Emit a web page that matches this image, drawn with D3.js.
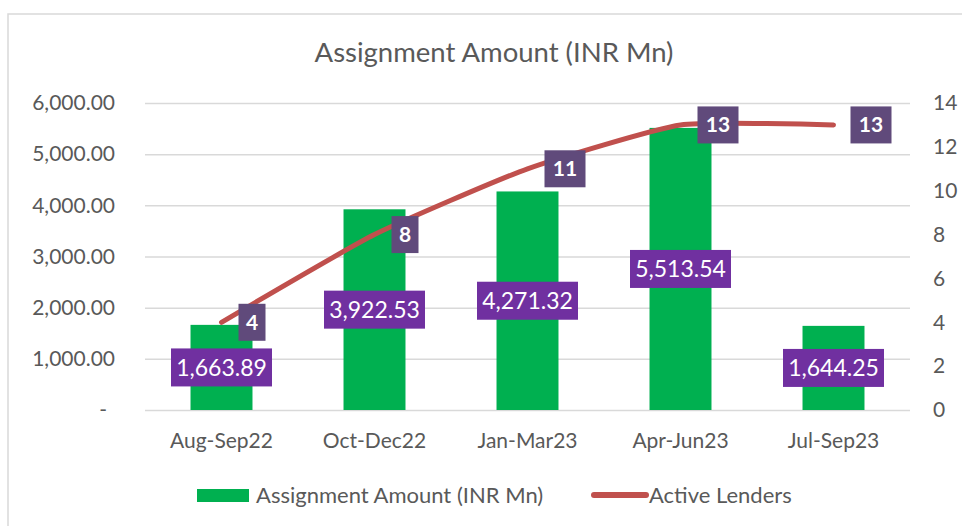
<!DOCTYPE html>
<html>
<head>
<meta charset="utf-8">
<title>Assignment Amount (INR Mn)</title>
<script src="https://cdnjs.cloudflare.com/ajax/libs/d3/7.8.5/d3.min.js"></script>
<style>
  body { margin: 0; background: #fff; }
  svg text { font-family: Lato, "Open Sans", sans-serif; fill: #595959; }
</style>
</head>
<body>
<div id="chart"></div>
<script>
// data
const categories = ["Aug-Sep22", "Oct-Dec22", "Jan-Mar23", "Apr-Jun23", "Jul-Sep23"];
const assignmentAmount = [1663.89, 3922.53, 4271.32, 5513.54, 1644.25];
const activeLenders = [4, 8, 11, 13, 13];
const leftTicks = [0, 1000, 2000, 3000, 4000, 5000, 6000];
const rightTicks = [0, 2, 4, 6, 8, 10, 12, 14];
const seriesNames = ["Assignment Amount (INR Mn)", "Active Lenders"];

const width = 962, height = 526;
const plot = { left: 145, right: 910, top: 103, bottom: 410 };

const svg = d3.select("#chart").append("svg")
    .attr("width", width)
    .attr("height", height);

// chart frame
svg.append("rect")
    .attr("x", 8).attr("y", 14)
    .attr("width", 990).attr("height", 540)
    .attr("fill", "#fff")
    .attr("stroke", "#d9d9d9")
    .attr("stroke-width", 1.5);

// title
svg.append("text")
    .attr("x", 494).attr("y", 52)
    .attr("dy", "0.35em")
    .attr("text-anchor", "middle")
    .style("font-size", "27.5px")
    .text("Assignment Amount (INR Mn)");

// scales
const x = d3.scaleBand()
    .domain(categories)
    .range([plot.left, plot.right])
    .paddingInner(0.595)
    .paddingOuter(0.2975);

const y = d3.scaleLinear().domain([0, 6000]).range([plot.bottom, plot.top]);
const y2 = d3.scaleLinear().domain([0, 14]).range([plot.bottom, plot.top]);

const fmtAmt = d3.format(",.2f");

// left axis + gridlines
const gLeft = svg.append("g")
    .attr("transform", `translate(${plot.left},0)`)
    .call(d3.axisLeft(y)
        .tickValues(leftTicks)
        .tickSize(-(plot.right - plot.left))
        .tickPadding(30)
        .tickFormat(d => d === 0 ? "-" : fmtAmt(d)));
gLeft.select(".domain").remove();
gLeft.selectAll(".tick line").attr("stroke", "#d9d9d9").attr("stroke-width", 1.5);
gLeft.selectAll(".tick text")
    .style("font-size", "21px")
    .attr("fill", "#595959")
    .attr("x", d => d === 0 ? -38 : -30);

// right axis
const gRight = svg.append("g")
    .attr("transform", `translate(${plot.right},0)`)
    .call(d3.axisRight(y2).tickValues(rightTicks).tickSize(0).tickPadding(23));
gRight.select(".domain").remove();
gRight.selectAll(".tick text").style("font-size", "21px").attr("fill", "#595959");

// bottom axis
const gBottom = svg.append("g")
    .attr("transform", `translate(0,${plot.bottom})`)
    .call(d3.axisBottom(x).tickSize(0).tickPadding(23));
gBottom.select(".domain").remove();
gBottom.selectAll(".tick text").style("font-size", "21px").attr("fill", "#595959");

// bars
const rows = categories.map((c, i) => ({ cat: c, amt: assignmentAmount[i], lenders: activeLenders[i] }));

svg.append("g").selectAll("rect")
    .data(rows)
    .enter()
    .append("rect")
    .attr("x", d => x(d.cat))
    .attr("y", d => y(d.amt))
    .attr("width", x.bandwidth())
    .attr("height", d => y(0) - y(d.amt))
    .attr("fill", "#00b050");

// line (lightly smoothed)
const cx = d => x(d.cat) + x.bandwidth() / 2;
const line = d3.line()
    .x(cx)
    .y(d => y2(d.lenders))
    .curve(d3.curveCardinal.tension(0.5));

svg.append("path")
    .datum(rows)
    .attr("d", line)
    .attr("fill", "none")
    .attr("stroke", "#c0504d")
    .attr("stroke-width", 5)
    .attr("stroke-linecap", "round")
    .attr("stroke-linejoin", "round");

// bar labels, centred in the bar
const barLabels = svg.append("g").selectAll("g")
    .data(rows)
    .enter()
    .append("g")
    .attr("transform", d => `translate(${cx(d)},${(y(d.amt) + y(0)) / 2})`);

barLabels.append("rect")
    .attr("x", -50.5).attr("y", -19)
    .attr("width", 101).attr("height", 38)
    .attr("fill", "#7030a0");

barLabels.append("text")
    .attr("text-anchor", "middle")
    .attr("dy", "0.36em")
    .style("font-size", "23px")
    .style("fill", "#fff")
    .text(d => fmtAmt(d.amt));

// line labels, to the right of the point
const boxW = d => String(d.lenders).length > 1 ? 41 : 27;
const lineLabels = svg.append("g").selectAll("g")
    .data(rows)
    .enter()
    .append("g")
    .attr("transform", d => `translate(${cx(d) + 17},${y2(d.lenders)})`);

lineLabels.append("rect")
    .attr("x", 0).attr("y", -18.5)
    .attr("width", boxW)
    .attr("height", 37)
    .attr("fill", "#604a7b");

lineLabels.append("text")
    .attr("x", d => boxW(d) / 2)
    .attr("text-anchor", "middle")
    .attr("dy", "0.36em")
    .style("font-size", "21px")
    .style("font-weight", "bold")
    .style("fill", "#fff")
    .text(d => d.lenders);

// legend
const legend = svg.append("g");
legend.append("rect")
    .attr("x", 197).attr("y", 489)
    .attr("width", 52).attr("height", 13)
    .attr("fill", "#00b050");
legend.append("text")
    .attr("x", 256).attr("y", 495)
    .attr("dy", "0.35em")
    .style("font-size", "22px")
    .text(seriesNames[0]);
legend.append("line")
    .attr("x1", 594).attr("x2", 646)
    .attr("y1", 495).attr("y2", 495)
    .attr("stroke", "#c0504d")
    .attr("stroke-width", 6)
    .attr("stroke-linecap", "round");
legend.append("text")
    .attr("x", 649).attr("y", 495)
    .attr("dy", "0.35em")
    .style("font-size", "22px")
    .text(seriesNames[1]);
</script>
</body>
</html>
